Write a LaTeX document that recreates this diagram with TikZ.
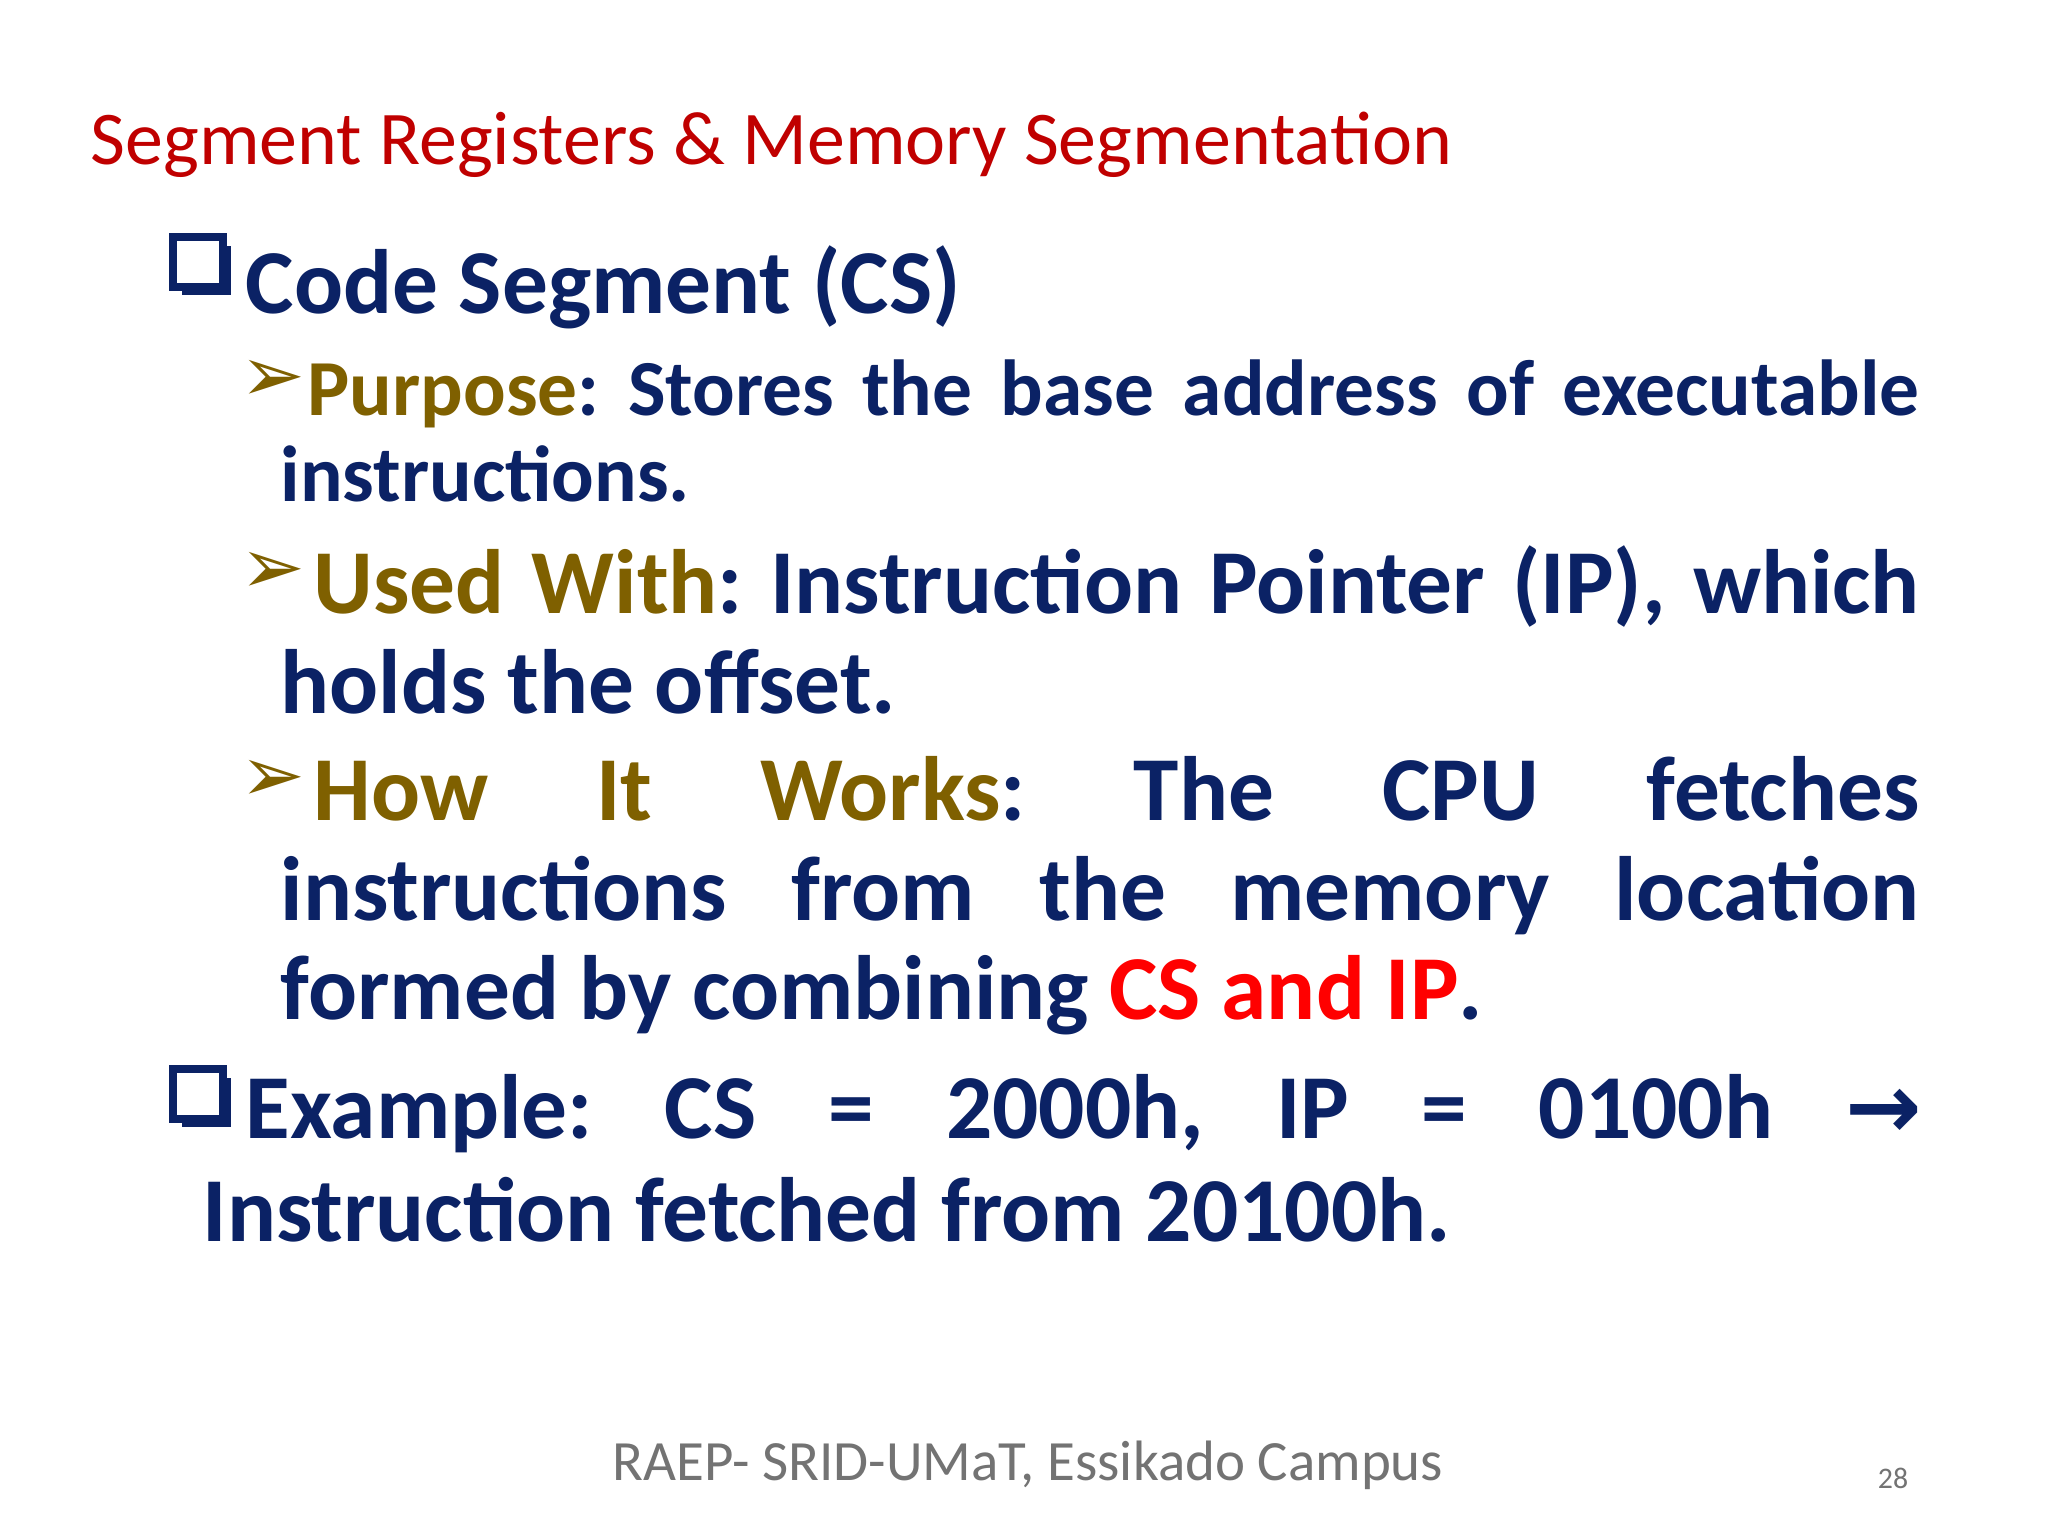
\documentclass[tikz,border=0pt]{standalone}
\usepackage{fontspec}
\setmainfont{Carlito}
\newfontfamily\dv{DejaVu Sans}
\definecolor{navy}{HTML}{0B2265}
\definecolor{olive}{HTML}{7F6000}
\definecolor{dred}{HTML}{C00000}
\tikzset{ln/.style={anchor=base west,inner sep=0pt,text=navy,font=\bfseries},
  arr/.style={anchor=base west,inner sep=0pt,text=olive,font=\fontsize{22}{26}\selectfont\dv},
  cbox/.style={draw=navy,line width=2.2pt,fill=white}}
\newcommand{\J}[2]{\hbox to #1{#2}}
\newcommand{\chkbox}[2]{\fill[navy] (#1+0.09,#2-0.09) rectangle (#1+0.58,#2-0.58);
  \draw[cbox] (#1,#2) rectangle (#1+0.5,#2-0.5);}
\begin{document}
\begin{tikzpicture}[x=1cm,y=1cm]
\useasboundingbox[fill=white] (0,0) rectangle (20.48,-15.36);
\node[anchor=base west,inner sep=0pt,text=dred,font=\fontsize{21.6}{26}\selectfont] (t) at (0.90,-1.65) {Segment Registers \& Memory Segmentation};
% Code segment
\chkbox{1.73}{-2.37}
\node[ln,font=\fontsize{26}{31}\selectfont\bfseries] (l0) at (2.45,-3.14) {Code Segment (CS)};
% Purpose
\node[arr] (a1) at (2.40,-4.02) {➢};
\node[ln,font=\fontsize{22.6}{26}\selectfont\bfseries] (l1) at (3.07,-4.16) {\J{16.12cm}{\textcolor{olive}{Purpose}:\hfill Stores\hfill the\hfill base\hfill address\hfill of\hfill executable}};
\node[ln,font=\fontsize{22.6}{26}\selectfont\bfseries] (l2) at (2.80,-5.02) {instructions.};
% Used with
\node[arr] (a2) at (2.40,-5.94) {➢};
\node[ln,font=\fontsize{26}{30}\selectfont\bfseries] (l3) at (3.13,-6.14) {\J{16.06cm}{\textcolor{olive}{Used\hfill With}:\hfill Instruction\hfill Pointer\hfill (IP),\hfill which}};
\node[ln,font=\fontsize{26}{30}\selectfont\bfseries] (l4) at (2.80,-7.13) {holds the offset.};
% How it works
\node[arr] (a3) at (2.40,-8.01) {➢};
\node[ln,font=\fontsize{26}{30}\selectfont\bfseries] (l5) at (3.13,-8.21) {\J{16.06cm}{\textcolor{olive}{How\hfill It\hfill Works}:\hfill The\hfill CPU\hfill fetches}};
\node[ln,font=\fontsize{26}{30}\selectfont\bfseries] (l6) at (2.80,-9.20) {\J{16.39cm}{instructions\hfill from\hfill the\hfill memory\hfill location}};
\node[ln,font=\fontsize{26}{30}\selectfont\bfseries] (l7) at (2.80,-10.20) {formed by combining \textcolor{red}{CS and IP}.};
% Example
\chkbox{1.73}{-10.69}
\node[ln,font=\fontsize{26}{31}\selectfont\bfseries] (l8) at (2.45,-11.38) {\J{16.76cm}{Example:\hfill CS\hfill =\hfill 2000h,\hfill IP\hfill =\hfill 0100h\hfill {\dv\bfseries\fontsize{26}{30}\selectfont →}}};
\node[ln,font=\fontsize{26}{31}\selectfont\bfseries] (l9) at (2.02,-12.41) {Instruction fetched from 20100h.};
% footer
\node[anchor=base,inner sep=0pt,text=black!55,font=\fontsize{16.2}{19}\selectfont] (f) at (10.28,-14.80) {RAEP- SRID-UMaT, Essikado Campus};
\node[anchor=base,inner sep=0pt,text=black!55,font=\fontsize{8.5}{10}\selectfont] (p) at (18.93,-14.88) {28};
\end{tikzpicture}
\end{document}
